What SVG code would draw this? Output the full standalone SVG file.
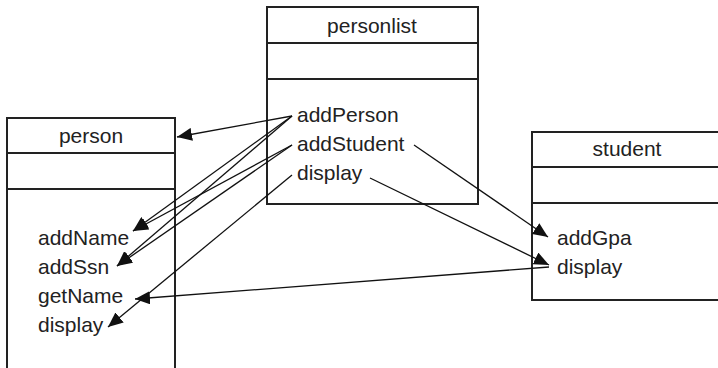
<svg xmlns="http://www.w3.org/2000/svg" width="718" height="368" viewBox="0 0 718 368">
<style>
.box{fill:#fff;stroke:#222;stroke-width:2}
.t{font-family:"Liberation Sans",Arial,sans-serif;font-size:21px;fill:#222}
.c{text-anchor:middle}
.cn line{stroke:#111;stroke-width:1.3;marker-end:url(#ah)}
</style>
<defs>
<marker id="ah" markerUnits="userSpaceOnUse" markerWidth="16" markerHeight="13" refX="15" refY="6.5" orient="auto">
<path d="M0,0 L15,6.5 L0,13 Z" fill="#111"/>
</marker>
</defs>
<rect width="718" height="368" fill="#fff"/>
<g id="person">
<rect class="box" x="7" y="118" width="168" height="270"/>
<line class="box" x1="7" y1="153" x2="175" y2="153"/>
<line class="box" x1="7" y1="189" x2="175" y2="189"/>
<text class="t c" x="91" y="143">person</text>
<text class="t" x="38" y="245">addName</text>
<text class="t" x="38" y="274">addSsn</text>
<text class="t" x="38" y="303">getName</text>
<text class="t" x="38" y="332">display</text>
</g>
<g id="personlist">
<rect class="box" x="267" y="7" width="211" height="197"/>
<line class="box" x1="267" y1="43" x2="478" y2="43"/>
<line class="box" x1="267" y1="79" x2="478" y2="79"/>
<text class="t c" x="372" y="33">personlist</text>
<text class="t" x="297" y="122">addPerson</text>
<text class="t" x="297" y="151">addStudent</text>
<text class="t" x="297" y="180">display</text>
</g>
<g id="student">
<rect class="box" x="532" y="132" width="200" height="168"/>
<line class="box" x1="532" y1="167" x2="732" y2="167"/>
<line class="box" x1="532" y1="203" x2="732" y2="203"/>
<text class="t c" x="627" y="156">student</text>
<text class="t" x="557" y="245">addGpa</text>
<text class="t" x="557" y="274">display</text>
</g>
<g id="connectors" class="cn">
<line x1="292" y1="116" x2="177" y2="137"/>
<line x1="292" y1="116" x2="133" y2="231"/>
<line x1="292" y1="116" x2="117" y2="266"/>
<line x1="292" y1="145" x2="133" y2="231"/>
<line x1="292" y1="145" x2="117" y2="266"/>
<line x1="292" y1="175" x2="108" y2="327"/>
<line x1="549" y1="267" x2="135" y2="299"/>
<line x1="414" y1="145" x2="548" y2="237"/>
<line x1="370" y1="178" x2="549" y2="265"/>
</g>
</svg>
